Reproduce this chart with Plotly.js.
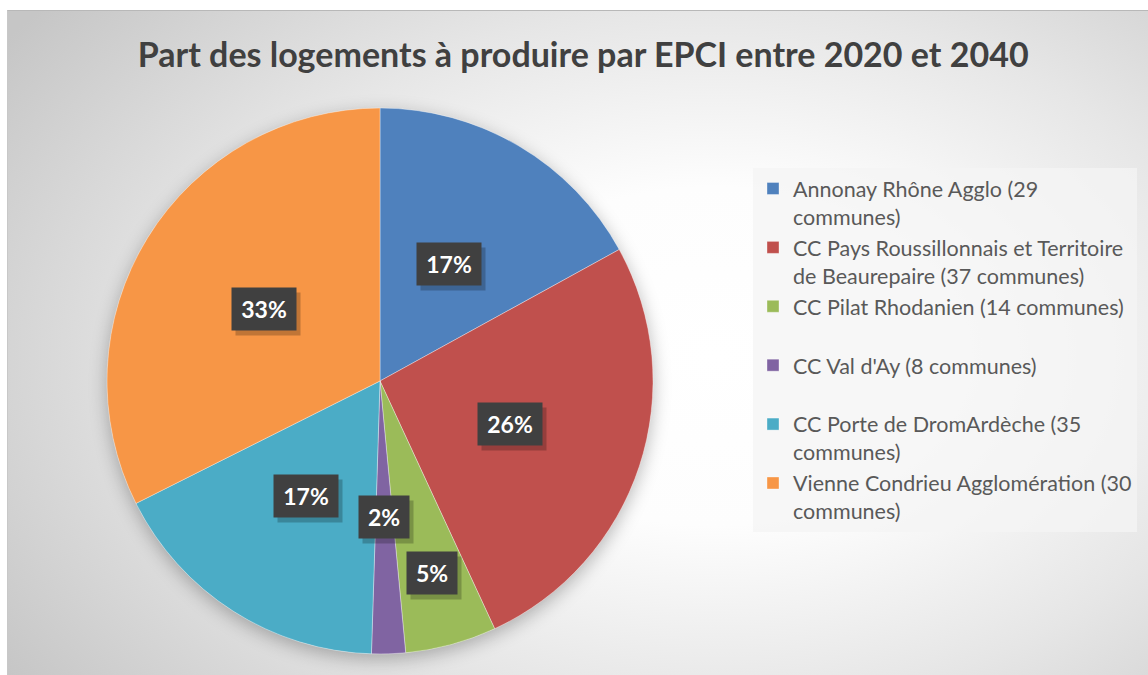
<!DOCTYPE html>
<html>
<head>
<meta charset="utf-8">
<script src="https://cdn.plot.ly/plotly-3.0.1.min.js"></script>
<style>
  html, body { margin:0; padding:0; background:#ffffff; }
  #wrap { position:absolute; left:0; top:0; width:1148px; height:675px; background:#ffffff; }
  #bg { position:absolute; left:7px; top:10px; width:1141px; height:665px;
        background: radial-gradient(ellipse 75% 85% at 62% 52%, #ffffff 0%, #fdfdfd 30%, #e6e6e6 62%, #c6c6c6 100%);
        border-top:1px solid #b8b8b8; border-left:1px solid #c8c8c8; box-sizing:border-box; }
  #shadow { position:absolute; left:107px; top:108px; width:546px; height:546px; border-radius:50%;
        box-shadow: 0 5px 18px rgba(0,0,0,0.28); }
  #chart { position:absolute; left:0; top:0; width:1148px; height:675px; }
</style>
</head>
<body>
<div id="wrap">
  <div id="bg"></div>
  <div id="shadow"></div>
  <div id="chart"></div>
</div>
<script>
// ---- data ----
const categories = [
  "Annonay Rhône Agglo (29<br>communes)",
  "CC Pays Roussillonnais et Territoire<br>de Beaurepaire (37 communes)",
  "CC Pilat Rhodanien (14 communes)<br> ",
  "CC Val d'Ay (8 communes)<br> ",
  "CC Porte de DromArdèche (35<br>communes)",
  "Vienne Condrieu Agglomération (30<br>communes)"
];
const shares = [17.0, 26.1, 5.4, 2.0, 17.1, 32.4];
const percentLabels = ["17%", "26%", "5%", "2%", "17%", "33%"];
const colors = ["#4f81bd", "#c0504d", "#9bbb59", "#8064a2", "#4bacc6", "#f79646"];

// ---- layout geometry (pixels) ----
const W = 1148, H = 675;
const cx = 380, cy = 381, R = 273;
const domX = [(cx - R) / W, (cx + R) / W];
const domY = [(H - cy - R) / H, (H - cy + R) / H];

// label annotations placed along each slice's mid-angle
const total = shares.reduce((a, b) => a + b, 0);
const annotations = [];
let acc = 0;
shares.forEach((v, i) => {
  const mid = (acc + v / 2) / total * 2 * Math.PI;
  acc += v;
  // a small slice next to a tiny one gets its label pushed outward
  const rf = (v < 3 || v >= 8) ? 0.5 : 0.73;
  const px = cx + rf * R * Math.sin(mid);
  const py = cy - rf * R * Math.cos(mid);
  const boxW = percentLabels[i].length * 14 + 6;
  const common = { xref: 'paper', yref: 'paper', x: px / W, y: (H - py) / H,
                   showarrow: false, width: boxW, height: 26,
                   borderpad: 8, xanchor: 'center', yanchor: 'middle', align: 'center' };
  // drop shadow box (no text)
  annotations.push(Object.assign({}, common, { text: ' ', bgcolor: 'rgba(0,0,0,0.22)', xshift: 4, yshift: -5 }));
  annotations.push(Object.assign({}, common, { text: '<b>' + percentLabels[i] + '</b>', bgcolor: '#404040',
                   font: { family: 'Lato, sans-serif', size: 23, color: '#ffffff' } }));
});

const trace = {
  type: 'pie',
  labels: categories,
  values: shares,
  sort: false,
  direction: 'clockwise',
  rotation: 0,
  textinfo: 'none',
  hoverinfo: 'label+percent',
  marker: { colors: colors, line: { color: 'rgba(255,255,255,0.5)', width: 0.7 } },
  domain: { x: domX, y: domY }
};

const layout = {
  width: W, height: H,
  margin: { l: 0, r: 0, t: 0, b: 0 },
  paper_bgcolor: 'rgba(0,0,0,0)',
  plot_bgcolor: 'rgba(0,0,0,0)',
  title: { text: '<b>Part des logements à produire par EPCI entre 2020 et 2040</b>',
           font: { family: 'Lato, sans-serif', size: 34, color: '#404040' },
           x: 0.508, xanchor: 'center', y: 1 - 55 / H, yanchor: 'middle', xref: 'paper', yref: 'paper' },
  showlegend: true,
  legend: {
    x: 753 / W, xanchor: 'left', y: 1 - 168 / H, yanchor: 'top',
    bgcolor: 'rgba(244,244,244,0.75)',
    font: { family: 'Lato, sans-serif', size: 21.5, color: '#595959' },
    valign: 'top',
    traceorder: 'normal'
  },
  annotations: annotations
};

Plotly.newPlot('chart', [trace], layout, { displayModeBar: false, staticPlot: true });
</script>
</body>
</html>
